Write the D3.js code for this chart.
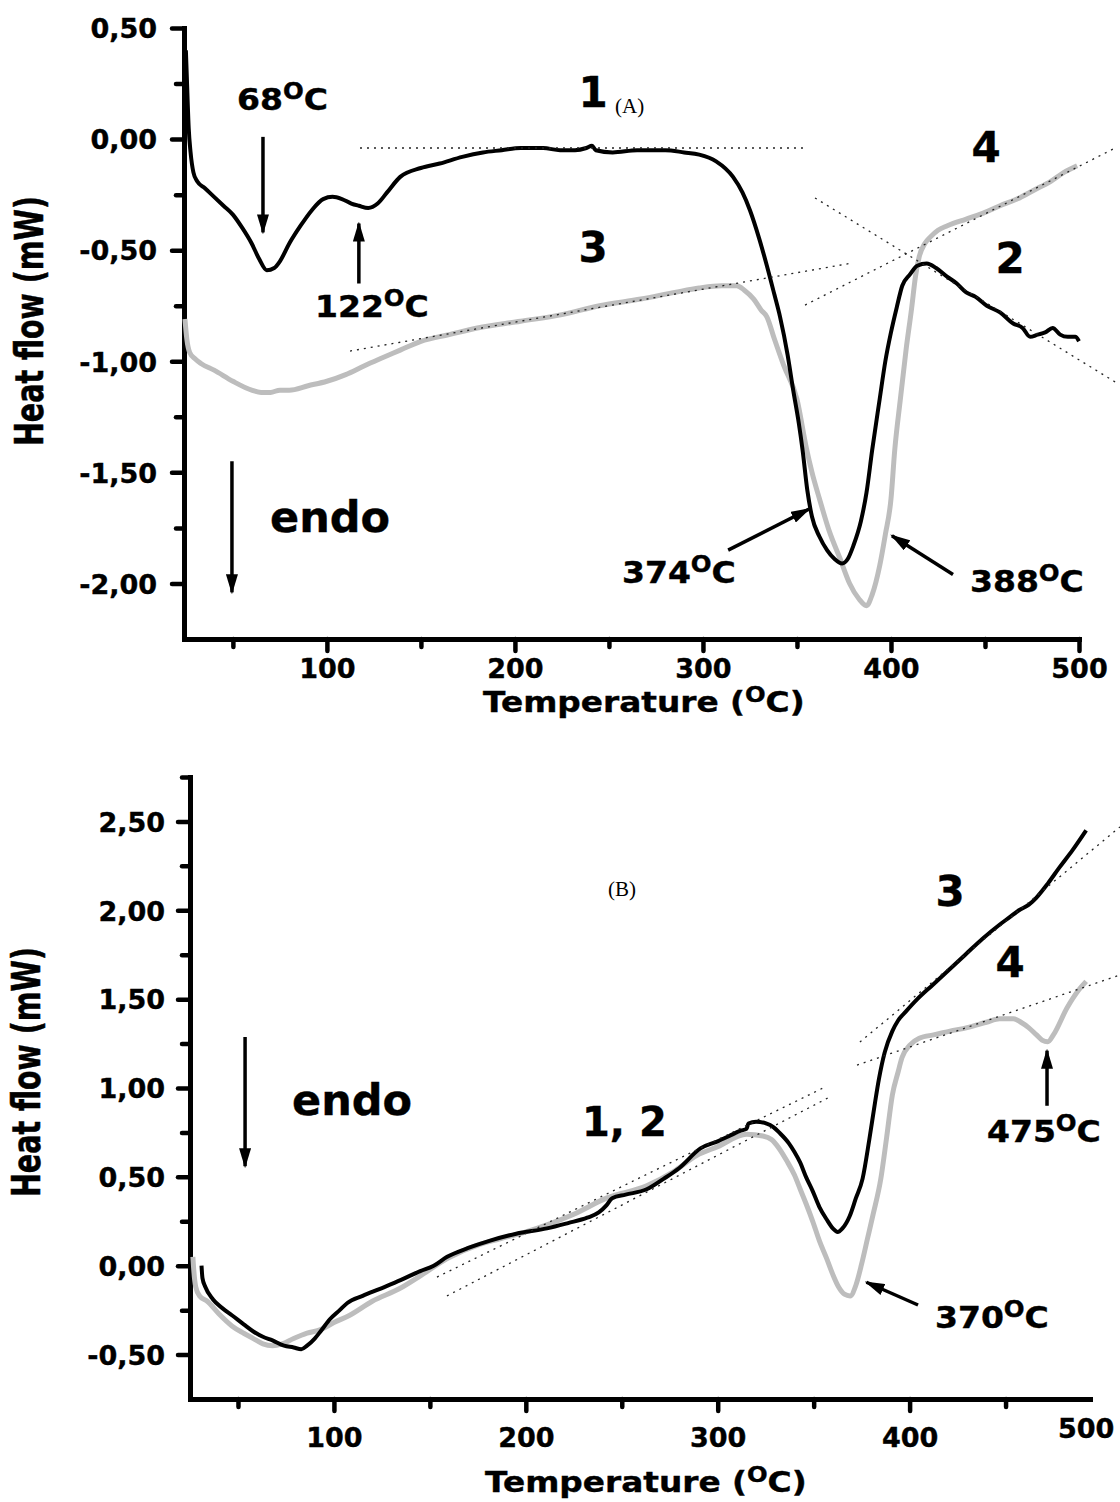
<!DOCTYPE html>
<html>
<head>
<meta charset="utf-8">
<script src="https://cdn.jsdelivr.net/npm/d3@7"></script>
<style>
  body { margin: 0; background: #fff; }
  svg text { font-family: "DejaVu Sans", sans-serif; font-weight: bold; fill: #000; stroke: #000; stroke-width: 0.4px; }
</style>
</head>
<body>
<svg width="1120" height="1502"></svg>
<script>
// ---- panel A : heat flow (mW) vs temperature (°C) ----
const curveA1 = [[25, 0.40], [25.5, 0.28], [26.5, 0.05], [27.5, -0.06], [29, -0.15], [31, -0.19], [35, -0.22],
  [40, -0.26], [45, -0.30], [50, -0.34], [55, -0.40], [60, -0.47], [64, -0.54], [68, -0.59], [72, -0.58],
  [75, -0.55], [80, -0.47], [86, -0.39], [92, -0.32], [98, -0.27], [103, -0.26], [108, -0.27], [113, -0.29],
  [117, -0.30], [122, -0.31], [127, -0.29], [132, -0.24], [139, -0.17], [150, -0.13], [160, -0.11],
  [172, -0.08], [183, -0.06], [193, -0.05], [203, -0.04], [215, -0.04], [224, -0.05], [232, -0.05],
  [238, -0.04], [241, -0.03], [243, -0.05], [252, -0.06], [265, -0.05], [280, -0.05], [290, -0.06],
  [298, -0.07], [307, -0.10], [316, -0.17], [321, -0.24], [325, -0.32], [330, -0.45], [334, -0.57],
  [338, -0.70], [341, -0.80], [345, -0.97], [348, -1.13], [351, -1.28], [353, -1.40], [355.5, -1.58],
  [358, -1.70], [362, -1.79], [366, -1.85], [370, -1.89], [374, -1.91], [377, -1.89], [380, -1.83],
  [384, -1.72], [387, -1.59], [390, -1.40], [394, -1.17], [397, -1.00], [400, -0.87], [403, -0.76],
  [406, -0.66], [410, -0.61], [414, -0.57], [419, -0.56], [424, -0.58], [430, -0.62], [435, -0.65],
  [440, -0.69], [445, -0.71], [451, -0.75], [458, -0.78], [465, -0.83], [470, -0.85], [474, -0.89],
  [478, -0.88], [482, -0.87], [486, -0.85], [490, -0.88], [494, -0.89], [498, -0.89], [500, -0.91]];

const curveA3 = [[24.5, -0.81], [25.5, -0.90], [27, -0.96], [30, -0.99], [33, -1.01], [40, -1.04],
  [50, -1.09], [60, -1.13], [65, -1.14], [70, -1.14], [75, -1.13], [80, -1.13], [90, -1.11], [100, -1.09],
  [110, -1.06], [120, -1.02], [128, -0.99], [139, -0.95], [150, -0.91], [165, -0.88], [180, -0.85],
  [203, -0.82], [225, -0.79], [245, -0.75], [267, -0.72], [285, -0.69], [298, -0.67], [310, -0.66],
  [318, -0.66], [322, -0.68], [327, -0.72], [331, -0.77], [334, -0.80], [338, -0.90], [343, -1.02],
  [350, -1.17], [355, -1.39], [358, -1.50], [362, -1.62], [367, -1.76], [373, -1.89], [378, -2.00],
  [383, -2.07], [387, -2.10], [390, -2.05], [394, -1.92], [397, -1.78], [400, -1.62], [402, -1.40],
  [405, -1.17], [408, -0.95], [411, -0.76], [413, -0.62], [415, -0.53], [418, -0.47], [421, -0.44],
  [425, -0.41], [430, -0.39], [440, -0.36], [450, -0.33], [458, -0.30], [467, -0.27], [476, -0.23],
  [485, -0.19], [492, -0.15], [499, -0.12]];

// baselines / tangents, as [start, end] in (°C, mW)
const tangentsA = [
  [[117.6, -0.04], [354.3, -0.04]],
  [[112.3, -0.954], [379.3, -0.558]],
  [[359.6, -0.265], [519.2, -1.093]],
  [[354.3, -0.747], [518.1, -0.045]]
];

// ---- panel B ----
const curveB1 = [[31, 0.00], [31.5, -0.07], [33, -0.12], [37, -0.19], [42, -0.24], [47, -0.28], [53, -0.33],
  [58, -0.37], [63, -0.40], [68, -0.42], [74, -0.45], [79, -0.46], [83, -0.47], [86, -0.45], [90, -0.41],
  [93, -0.37], [98, -0.30], [103, -0.25], [107, -0.21], [115, -0.17], [124, -0.13], [135, -0.08],
  [145, -0.03], [152, 0.00], [159, 0.05], [170, 0.10], [181, 0.14], [195, 0.18], [211, 0.21], [222, 0.24],
  [232, 0.27], [238, 0.30], [242, 0.34], [245, 0.38], [252, 0.40], [263, 0.43], [272, 0.49], [280, 0.55],
  [291, 0.66], [300, 0.70], [306, 0.73], [312, 0.76], [315, 0.77], [316, 0.80], [320, 0.81], [325.5, 0.80],
  [329, 0.78], [332, 0.75], [337, 0.69], [340, 0.64], [343, 0.58], [346, 0.50], [349.5, 0.42], [353, 0.33],
  [356.8, 0.26], [360, 0.21], [362.5, 0.19], [365, 0.21], [368.8, 0.28], [372, 0.38], [375.5, 0.49],
  [379, 0.71], [382, 0.92], [384, 1.05], [387, 1.20], [391, 1.32], [394, 1.38], [398, 1.43], [404, 1.50],
  [412, 1.58], [420, 1.66], [429, 1.75], [438, 1.84], [447, 1.92], [452, 1.96], [457, 2.00], [462, 2.03],
  [466, 2.07], [472, 2.15], [478, 2.24], [485, 2.34], [492, 2.45]];

const curveB2 = [[26.5, 0.05], [27, -0.03], [28, -0.12], [30, -0.17], [34, -0.20], [40, -0.27], [47, -0.34],
  [53, -0.38], [58, -0.41], [63, -0.44], [68, -0.45], [73, -0.44], [79, -0.41], [86, -0.38], [93, -0.36],
  [100, -0.32], [108, -0.28], [120, -0.20], [134, -0.13], [146, -0.05], [159, 0.04], [176, 0.12],
  [186, 0.15], [200, 0.19], [211, 0.23], [225, 0.29], [242, 0.38], [263, 0.45], [277, 0.53], [289, 0.62],
  [300, 0.67], [315, 0.74], [323.5, 0.73], [328, 0.71], [332, 0.66], [336, 0.59], [340, 0.51], [343, 0.43],
  [346, 0.35], [349.5, 0.25], [353, 0.14], [356.8, 0.04], [360, -0.05], [363, -0.12], [366, -0.16],
  [369, -0.17], [372, -0.11], [375, 0.01], [378, 0.15], [381, 0.29], [385, 0.49], [388, 0.72], [391, 0.96],
  [394, 1.09], [396, 1.17], [400, 1.24], [405, 1.28], [413, 1.30], [421, 1.32], [430, 1.34], [440, 1.37],
  [447, 1.39], [454, 1.39], [458, 1.37], [462, 1.34], [466, 1.30], [469, 1.27], [472, 1.26], [475, 1.30],
  [482, 1.45], [488, 1.55], [492, 1.60]];

const tangentsB = [
  [[374.1, 1.259], [509.6, 2.469]],
  [[372.6, 1.129], [509.6, 1.636]],
  [[153.7, -0.064], [354.9, 1.0]],
  [[158.9, -0.17], [358.5, 0.95]]
];

// ticks
const xMajorA = [100, 200, 300, 400, 500];
const xMinorA = [50, 150, 250, 350, 450];
const yMajorA = [0.5, 0, -0.5, -1, -1.5, -2];
const yMinorA = [0.25, -0.25, -0.75, -1.25, -1.75];
const xMajorB = [100, 200, 300, 400];
const xMinorB = [50, 150, 250, 350, 450];
const yMajorB = [2.5, 2, 1.5, 1, 0.5, 0, -0.5];
const yMinorB = [2.75, 2.25, 1.75, 1.25, 0.75, 0.25, -0.25];

const svg = d3.select("svg");
svg.append("rect").attr("width", 1120).attr("height", 1502).attr("fill", "#fff");

// filled arrowhead
svg.append("defs").append("marker")
   .attr("id", "head")
   .attr("viewBox", "0 0 20 12")
   .attr("refX", 18)
   .attr("refY", 6)
   .attr("markerWidth", 20)
   .attr("markerHeight", 12)
   .attr("markerUnits", "userSpaceOnUse")
   .attr("orient", "auto")
   .append("path")
   .attr("d", "M 0 0 L 20 6 L 0 12 Z")
   .attr("fill", "#000");

const commaFmt = d => d.toFixed(2).replace(".", ",");

function drawAxes(x, y, xMaj, xMin, yMaj, yMin, xLabelDy, yLabelDx) {
  const g = svg.append("g");
  const y0 = y.range()[0], x0 = x.range()[0];

  const gx = g.append("g").attr("transform", `translate(0,${y0})`)
    .call(d3.axisBottom(x).tickValues(xMaj).tickSize(12).tickSizeOuter(0).tickFormat(d3.format("d")));
  g.append("g").attr("transform", `translate(0,${y0})`)
    .call(d3.axisBottom(x).tickValues(xMin).tickSize(8).tickSizeOuter(0).tickFormat(""));
  gx.selectAll(".tick text").attr("y", xLabelDy).attr("dy", 0);

  const gy = g.append("g").attr("transform", `translate(${x0},0)`)
    .call(d3.axisLeft(y).tickValues(yMaj).tickSize(12).tickSizeOuter(0).tickFormat(commaFmt));
  g.append("g").attr("transform", `translate(${x0},0)`)
    .call(d3.axisLeft(y).tickValues(yMin).tickSize(8).tickSizeOuter(0).tickFormat(""));
  gy.selectAll(".tick text").attr("x", yLabelDx).attr("dy", "0.36em");

  g.selectAll(".domain").attr("stroke", "#000").attr("stroke-width", 5).attr("stroke-linecap", "square");
  g.selectAll(".tick line").attr("stroke", "#000").attr("stroke-width", 4.5).attr("stroke-linecap", "round");
  g.selectAll(".tick text")
    .attr("fill", "#000")
    .style("font-family", "DejaVu Sans, sans-serif")
    .style("font-weight", "bold")
    .style("font-size", "27px");
  g.selectAll(".domain").raise();
}

function drawCurves(x, y, black, gray, tangents) {
  const line = d3.line().x(d => x(d[0])).y(d => y(d[1])).curve(d3.curveMonotoneX);
  svg.append("path").datum(gray)
    .attr("d", line).attr("fill", "none")
    .attr("stroke", "#bdbdbd").attr("stroke-width", 5).attr("stroke-linejoin", "round");
  svg.append("path").datum(black)
    .attr("d", line).attr("fill", "none")
    .attr("stroke", "#000").attr("stroke-width", 4).attr("stroke-linejoin", "round");
  svg.selectAll(null).data(tangents).enter().append("line")
    .attr("x1", d => x(d[0][0])).attr("y1", d => y(d[0][1]))
    .attr("x2", d => x(d[1][0])).attr("y2", d => y(d[1][1]))
    .attr("stroke", "#222").attr("stroke-width", 1.3).attr("stroke-dasharray", "2,5");
}

function arrow(x, y, from, to) {
  svg.append("line")
    .attr("x1", x(from[0])).attr("y1", y(from[1]))
    .attr("x2", x(to[0])).attr("y2", y(to[1]))
    .attr("stroke", "#000").attr("stroke-width", 3.5)
    .attr("marker-end", "url(#head)");
}

// "<num>°C" with the raised O used in the figure, widened a little
function degLabel(px, py, prefix, size, suffix, widen) {
  const t = svg.append("text")
    .attr("transform", `translate(${px},${py}) scale(${widen || 1.1},1)`)
    .style("font-size", size + "px");
  t.append("tspan").text(prefix);
  t.append("tspan").attr("dy", -size * 0.36).style("font-size", (size * 0.74) + "px").text("O");
  t.append("tspan").attr("dy", size * 0.36).text("C" + (suffix || ""));
  return t;
}

function plainText(px, py, txt, size, anchor) {
  return svg.append("text").attr("x", px).attr("y", py)
    .attr("text-anchor", anchor || "start")
    .style("font-size", size + "px").text(txt);
}

function yTitle(px, py) {
  svg.append("text")
    .attr("transform", `translate(${px},${py}) rotate(-90) scale(1,1.35)`)
    .attr("text-anchor", "middle")
    .style("font-size", "28.5px")
    .text("Heat flow (mW)");
}

// ---------- panel A ----------
const xA = d3.scaleLinear().domain([24, 500]).range([184, 1079]);
const yA = d3.scaleLinear().domain([-2.25, 0.5]).range([639, 28]);

drawAxes(xA, yA, xMajorA, xMinorA, yMajorA, yMinorA, 39, -27);
drawCurves(xA, yA, curveA1, curveA3, tangentsA);

yTitle(43, 321);
degLabel(483, 712, "Temperature (", 28, ")", 1.17);

degLabel(237, 110, "68", 30);
arrow(xA, yA, [66, 0.01], [66, -0.42]);
degLabel(315, 317, "122", 30);
arrow(xA, yA, [117, -0.65], [117, -0.38]);
degLabel(622, 583, "374", 30);
arrow(xA, yA, [313.4, -1.85], [356.5, -1.665]);
degLabel(970, 592, "388", 30);
arrow(xA, yA, [433, -1.96], [400.5, -1.785]);

plainText(270, 532, "endo", 43);
arrow(xA, yA, [49.5, -1.45], [49.5, -2.04]);

plainText(593, 107, "1", 42, "middle");
plainText(593, 262, "3", 42, "middle");
plainText(986, 162, "4", 42, "middle");
plainText(1010, 273, "2", 42, "middle");
plainText(615, 113, "(A)", 21).style("font-family", "Liberation Serif, serif").style("font-weight", "normal").style("stroke-width", 0);

// ---------- panel B ----------
const xB = d3.scaleLinear().domain([25, 494]).range([190, 1090]);
const yB = d3.scaleLinear().domain([-0.75, 2.75]).range([1399, 777]);

drawAxes(xB, yB, xMajorB, xMinorB, yMajorB, yMinorB, 48, -25);
drawCurves(xB, yB, curveB1, curveB2, tangentsB);
plainText(xB(492), 1438, "500", 27, "middle");

yTitle(40, 1072);
degLabel(485, 1492, "Temperature (", 28, ")", 1.17);

degLabel(987, 1142, "475", 30);
arrow(xB, yB, [471.6, 0.90], [471.6, 1.21]);
degLabel(935, 1328, "370", 30);
arrow(xB, yB, [404.4, -0.221], [377.5, -0.093]);

plainText(292, 1115, "endo", 43);
arrow(xB, yB, [53.7, 1.287], [53.7, 0.56]);

plainText(950, 906, "3", 42, "middle");
plainText(1010, 977, "4", 42, "middle");
plainText(582, 1136, "1, 2", 40);
plainText(608, 896, "(B)", 21).style("font-family", "Liberation Serif, serif").style("font-weight", "normal").style("stroke-width", 0);
</script>
</body>
</html>
